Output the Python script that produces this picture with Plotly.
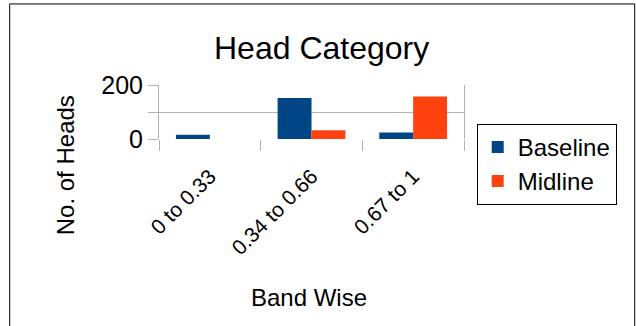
import plotly.graph_objects as go

# Band categories and head counts per survey round
categories = ["0 to 0.33", "0.34 to 0.66", "0.67 to 1"]
baseline = [16, 152, 24]
midline = [0, 32, 157]
y_ticks = [0, 100, 200]
y_tick_text = ["0", "", "200"]

W, H = 636, 326
L, R, T, B = 159.3, 464.3, 85.0, 139.3  # plot area edges in pixels


def px_x(x):
    return (x - L) / (R - L)


def px_y(y):
    return (B - y) / (B - T)


FONT = "Liberation Sans, Arial, sans-serif"
GRID = "#b3b3b3"

fig = go.Figure()
fig.add_trace(go.Bar(name="Baseline", x=categories, y=baseline, marker_color="#004586",
                     marker_line_width=0))
fig.add_trace(go.Bar(name="Midline", x=categories, y=midline, marker_color="#ff420e",
                     marker_line_width=0))

fig.update_layout(
    width=W, height=H,
    margin=dict(l=L, r=W - R, t=T, b=H - B, pad=0),
    paper_bgcolor="white", plot_bgcolor="white",
    barmode="group", bargap=1 / 3, bargroupgap=0,
    font=dict(family=FONT, color="black"),
    showlegend=True,
    legend=dict(
        x=px_x(477), y=px_y(124), xanchor="left", yanchor="top",
        font=dict(size=24, family=FONT, color="black"),
        bordercolor="black", borderwidth=1, bgcolor="white",
        tracegroupgap=0, maxheight=200,
    ),
    annotations=[
        dict(text="Head Category", x=px_x(322), y=px_y(48), xref="paper", yref="paper",
             showarrow=False, font=dict(size=32, family=FONT, color="black"),
             xanchor="center", yanchor="middle"),
        dict(text="No. of Heads", x=px_x(66), y=px_y(166), xref="paper", yref="paper",
             showarrow=False, textangle=-90, font=dict(size=24, family=FONT, color="black"),
             xanchor="center", yanchor="middle"),
        dict(text="Band Wise", x=px_x(309), y=px_y(299), xref="paper", yref="paper",
             showarrow=False, font=dict(size=24, family=FONT, color="black"),
             xanchor="center", yanchor="middle"),
    ],
    shapes=[
        dict(type="rect", xref="paper", yref="paper",
             x0=px_x(10), x1=px_x(635), y0=px_y(340), y1=px_y(3.5),
             line=dict(color="black", width=1), fillcolor="rgba(0,0,0,0)", layer="below"),
    ],
)

fig.update_xaxes(
    type="category", showgrid=False, zeroline=False, showline=False,
    ticks="outside", tickson="boundaries", ticklen=11, tickcolor=GRID, tickwidth=1,
    tickangle=-45, ticklabelstandoff=20,
    tickfont=dict(size=21, family=FONT, color="black"),
)
fig.update_yaxes(
    range=[0, 200], tickvals=y_ticks, ticktext=y_tick_text,
    showgrid=True, gridcolor=GRID, gridwidth=1, zeroline=False,
    showline=True, linecolor=GRID, linewidth=1, mirror=True,
    ticks="outside", ticklen=10, tickcolor=GRID, tickwidth=1,
    tickfont=dict(size=25, family=FONT, color="black"),
)

fig.write_html("out.html")
